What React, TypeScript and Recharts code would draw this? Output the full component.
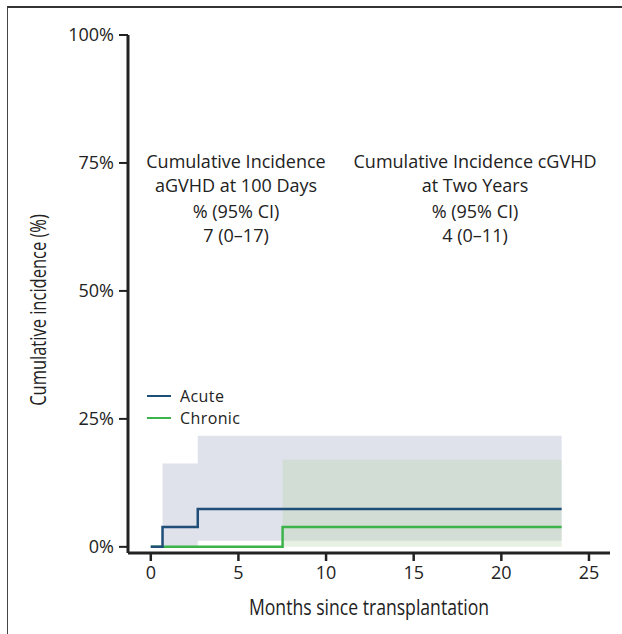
import { ComposedChart, Line, Area, XAxis, YAxis, Legend } from 'recharts';

// event times (months) and step values (%)
const months = [0, 0.67, 2.68, 7.52, 23.44];
const acute = [0, 3.9, 7.4, 7.4, 7.4];
const chronic = [0, 0, 0, 3.9, 3.9];
const acuteLow = [null, 0, 1.2, 1.2, 1.2];
const acuteHigh = [null, 16.3, 21.7, 21.7, 21.7];
const chronicLow = [null, null, null, 0, 0];
const chronicHigh = [null, null, null, 17, 17];

const xTicks = [0, 5, 10, 15, 20, 25];
const yTicks = [0, 25, 50, 75, 100];

const seriesNames = ['Acute', 'Chronic'];
const seriesColors = ['#1f4e79', '#3cb44b'];

const noteAcute = ['Cumulative Incidence', 'aGVHD at 100 Days', '% (95% CI)', '7 (0–17)'];
const noteChronic = ['Cumulative Incidence cGVHD', 'at Two Years', '% (95% CI)', '4 (0–11)'];

const rows = months.map((m, i) => ({
  month: m,
  acute: acute[i],
  chronic: chronic[i],
  acuteCI: acuteLow[i] == null ? null : [acuteLow[i], acuteHigh[i]],
  chronicCI: chronicLow[i] == null ? null : [chronicLow[i], chronicHigh[i]],
}));

const FONT = '"Open Sans", "Noto Sans", sans-serif';

function LegendBox() {
  return (
    <div style={{ fontFamily: FONT, fontSize: 16, color: '#222', lineHeight: '22px', letterSpacing: 0.4 }}>
      {seriesNames.map((n, i) => (
        <div key={n} style={{ display: 'flex', alignItems: 'center', height: 22 }}>
          <span style={{ display: 'inline-block', width: 24, height: 2.5, background: seriesColors[i], marginRight: 9 }} />
          {n}
        </div>
      ))}
    </div>
  );
}

function Note({ lines, cx }: { lines: string[]; cx: number }) {
  return (
    <div
      style={{
        position: 'absolute', left: cx - 150, top: 149, width: 300, textAlign: 'center',
        fontFamily: FONT, fontSize: 18, color: '#222', lineHeight: '24px',
      }}
    >
      {lines.map((l, i) => (
        <div key={i} style={{ marginTop: i === 2 ? 2 : 0 }}>{l}</div>
      ))}
    </div>
  );
}

export default function App() {
  return (
    <div style={{ position: 'absolute', left: 0, top: 0, width: 622, height: 634, background: '#fff', overflow: 'hidden' }}>
      <div style={{ position: 'absolute', left: 7, top: 6, width: 640, height: 660, borderLeft: '1.5px solid #444', borderTop: '2px solid #333' }} />
      <ComposedChart width={622} height={634} data={rows} margin={{ top: 35, right: 12, bottom: 21, left: 68 }}>
        <XAxis
          dataKey="month"
          type="number"
          domain={[-1.3, 26.2]}
          allowDataOverflow
          ticks={xTicks}
          height={60}
          axisLine={{ stroke: '#222', strokeWidth: 3 }}
          tickLine={{ stroke: '#222', strokeWidth: 2.5 }}
          tickSize={8}
          tickMargin={5}
          tick={{ fill: '#222', fontSize: 18, fontFamily: FONT }}
        />
        <YAxis
          type="number"
          domain={[-1.2, 100]}
          allowDataOverflow
          ticks={yTicks}
          width={60}
          tickFormatter={(v) => `${v}%`}
          axisLine={{ stroke: '#222', strokeWidth: 3 }}
          tickLine={{ stroke: '#222', strokeWidth: 2 }}
          tickSize={9}
          tickMargin={5}
          tick={{ fill: '#222', fontSize: 18, fontFamily: FONT }}
        />
        <Legend
          layout="horizontal"
          verticalAlign="middle"
          align="center"
          content={<LegendBox />}
          wrapperStyle={{ left: 147, top: 385, width: 120 }}
        />
        <Area
          type="stepAfter"
          dataKey="acuteCI"
          stroke="none"
          fill="#dfe1eb"
          fillOpacity={1}
          legendType="none"
          isAnimationActive={false}
        />
        <Area
          type="stepAfter"
          dataKey="chronicCI"
          stroke="none"
          fill="#bad7af"
          fillOpacity={0.35}
          legendType="none"
          isAnimationActive={false}
        />
        <Line type="stepAfter" dataKey="chronic" name="Chronic" stroke={seriesColors[1]} strokeWidth={2.5} dot={false} isAnimationActive={false} />
        <Line type="stepAfter" dataKey="acute" name="Acute" stroke={seriesColors[0]} strokeWidth={2.5} dot={false} isAnimationActive={false} />
      </ComposedChart>
      <Note lines={noteAcute} cx={236} />
      <Note lines={noteChronic} cx={475} />
      <div
        style={{
          position: 'absolute', left: 369, top: 606, width: 400, marginLeft: -200, textAlign: 'center',
          transform: 'translateY(-50%) scaleX(0.8)', fontFamily: FONT, fontSize: 22, color: '#222', lineHeight: '28px',
        }}
      >
        Months since transplantation
      </div>
      <div
        style={{
          position: 'absolute', left: 37, top: 310, width: 300, marginLeft: -150, textAlign: 'center',
          transform: 'translateY(-50%) rotate(-90deg) scaleX(0.75)', fontFamily: FONT, fontSize: 22, color: '#222', lineHeight: '28px',
        }}
      >
        Cumulative incidence (%)
      </div>
    </div>
  );
}
